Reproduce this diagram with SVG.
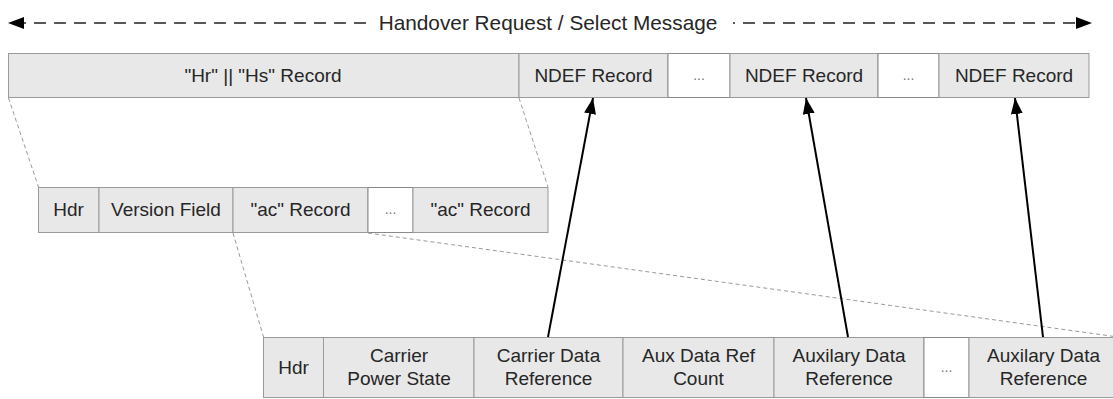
<svg xmlns="http://www.w3.org/2000/svg" width="1113" height="399" viewBox="0 0 1113 399">
<defs>
<marker id="ah" markerUnits="userSpaceOnUse" markerWidth="18" markerHeight="14" refX="16" refY="6" orient="auto">
<path d="M0,0 L16,6 L0,12 Z" fill="#000"/>
</marker>
<style>
.cell{fill:#e8e8e8;stroke:#9a9a9a;stroke-width:1}
.blank{fill:#fff;stroke:#8a8a8a;stroke-width:1}
.t{font-family:"Liberation Sans",Arial,sans-serif;font-size:19px;fill:#262626;text-anchor:middle}
.h{font-family:"Liberation Sans",Arial,sans-serif;font-size:20.8px;fill:#262626;text-anchor:middle}
.d{font-family:"Liberation Sans",Arial,sans-serif;font-size:14px;fill:#777;text-anchor:middle}
.proj{stroke:#9a9a9a;stroke-width:1;stroke-dasharray:4 3;fill:none}
.ref{stroke:#000;stroke-width:2;fill:none;marker-end:url(#ah)}
.msg{stroke:#222;stroke-width:1.6;stroke-dasharray:12 8;fill:none}
</style>
</defs>
<rect width="1113" height="399" fill="#fff"/>

<g id="header">
<line class="msg" x1="366" y1="23" x2="24" y2="23"/>
<path d="M8,23 L24,17 L24,29 Z" fill="#000"/>
<text class="h" x="548" y="30">Handover Request / Select Message</text>
<line class="msg" x1="733" y1="23" x2="1076" y2="23" stroke-dashoffset="10"/>
<path d="M1092,23 L1076,17 L1076,29 Z" fill="#000"/>
</g>

<g id="top-row">
<g id="hr-hs-record"><rect class="cell" x="8.5" y="53.5" width="510.5" height="44"/><text class="t" x="263" y="82">"Hr" || "Hs" Record</text></g>
<g id="ndef1"><rect class="cell" x="519" y="53.5" width="149" height="44"/><text class="t" x="593.5" y="82">NDEF Record</text></g>
<g id="dots1"><rect class="blank" x="668" y="53.5" width="62" height="44"/><text class="d" x="699" y="80">...</text></g>
<g id="ndef2"><rect class="cell" x="730" y="53.5" width="148" height="44"/><text class="t" x="804" y="82">NDEF Record</text></g>
<g id="dots2"><rect class="blank" x="878" y="53.5" width="61" height="44"/><text class="d" x="908.5" y="80">...</text></g>
<g id="ndef3"><rect class="cell" x="939" y="53.5" width="150" height="44"/><text class="t" x="1014" y="82">NDEF Record</text></g>
</g>

<g id="mid-row">
<g id="hdr1"><rect class="cell" x="38.5" y="187.5" width="60.5" height="45"/><text class="t" x="68.5" y="216">Hdr</text></g>
<g id="version"><rect class="cell" x="99" y="187.5" width="134" height="45"/><text class="t" x="166" y="216">Version Field</text></g>
<g id="ac1"><rect class="cell" x="233" y="187.5" width="135" height="45"/><text class="t" x="300.5" y="216">"ac" Record</text></g>
<g id="dots3"><rect class="blank" x="368" y="187.5" width="45" height="45"/><text class="d" x="390.5" y="214">...</text></g>
<g id="ac2"><rect class="cell" x="413" y="187.5" width="135" height="45"/><text class="t" x="480.5" y="216">"ac" Record</text></g>
</g>

<g id="bottom-row">
<g id="hdr2"><rect class="cell" x="263.5" y="337.5" width="60" height="60"/><text class="t" x="293.5" y="374">Hdr</text></g>
<g id="cps"><rect class="cell" x="323.5" y="337.5" width="150.5" height="60"/><text class="t" x="399" y="362">Carrier</text><text class="t" x="399" y="385">Power State</text></g>
<g id="cdr"><rect class="cell" x="474" y="337.5" width="149" height="60"/><text class="t" x="548.5" y="362">Carrier Data</text><text class="t" x="548.5" y="385">Reference</text></g>
<g id="adrc"><rect class="cell" x="623" y="337.5" width="151" height="60"/><text class="t" x="698.5" y="362">Aux Data Ref</text><text class="t" x="698.5" y="385">Count</text></g>
<g id="adr1"><rect class="cell" x="774" y="337.5" width="150" height="60"/><text class="t" x="849" y="362">Auxilary Data</text><text class="t" x="849" y="385">Reference</text></g>
<g id="dots4"><rect class="blank" x="924" y="337.5" width="45" height="60"/><text class="d" x="946.5" y="372">...</text></g>
<g id="adr2"><rect class="cell" x="969" y="337.5" width="149" height="60"/><text class="t" x="1043.5" y="362">Auxilary Data</text><text class="t" x="1043.5" y="385">Reference</text></g>
</g>

<g id="connectors">
<line class="proj" x1="8.5" y1="98" x2="38.5" y2="187"/>
<line class="proj" x1="519" y1="98" x2="548" y2="187"/>
<line class="proj" x1="233" y1="233" x2="263.5" y2="337"/>
<line class="proj" x1="368" y1="233" x2="1118" y2="337"/>
<line class="ref" x1="548" y1="337" x2="593" y2="98"/>
<line class="ref" x1="848" y1="337" x2="806" y2="98"/>
<line class="ref" x1="1043" y1="337" x2="1015" y2="98"/>
</g>
</svg>
